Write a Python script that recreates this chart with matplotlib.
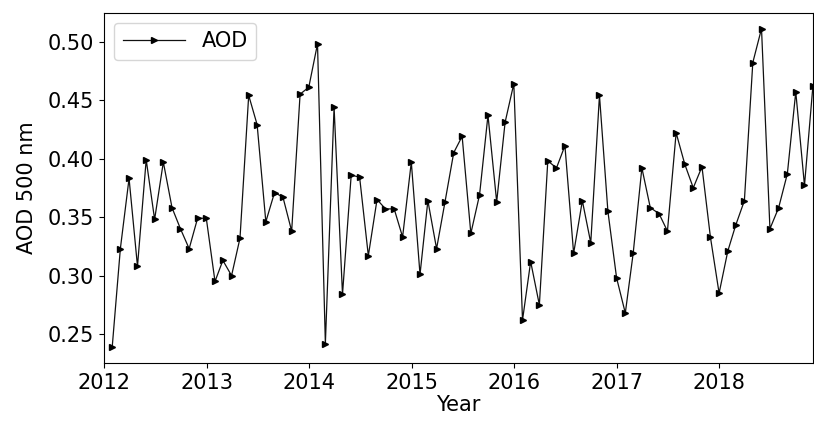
"""Monthly mean aerosol optical depth at 500 nm, 2012-2018."""
import numpy as np
import pandas as pd
import matplotlib
matplotlib.use("Agg")
import matplotlib.pyplot as plt
import matplotlib.dates as mdates

# monthly AOD values, Jan 2012 .. Nov 2018
AOD_2012 = [0.239, 0.323, 0.383, 0.308, 0.399, 0.348, 0.397, 0.358, 0.340, 0.323, 0.349, 0.349]
AOD_2013 = [0.295, 0.313, 0.300, 0.332, 0.454, 0.429, 0.346, 0.371, 0.367, 0.338, 0.455, 0.461]
AOD_2014 = [0.498, 0.242, 0.444, 0.284, 0.386, 0.384, 0.317, 0.365, 0.357, 0.357, 0.333, 0.397]
AOD_2015 = [0.301, 0.364, 0.323, 0.363, 0.405, 0.419, 0.336, 0.369, 0.437, 0.363, 0.431, 0.464]
AOD_2016 = [0.262, 0.312, 0.275, 0.398, 0.392, 0.411, 0.319, 0.364, 0.328, 0.454, 0.355, 0.298]
AOD_2017 = [0.268, 0.319, 0.392, 0.358, 0.353, 0.338, 0.422, 0.395, 0.375, 0.393, 0.333, 0.285]
AOD_2018 = [0.321, 0.343, 0.364, 0.482, 0.511, 0.340, 0.358, 0.387, 0.457, 0.377, 0.462]

aod = np.array(AOD_2012 + AOD_2013 + AOD_2014 + AOD_2015 + AOD_2016 + AOD_2017 + AOD_2018)
dates = pd.date_range("2012-01-31", periods=len(aod), freq="ME")

plt.rcParams.update({"font.family": "DejaVu Sans", "font.size": 15})

fig = plt.figure(figsize=(8.14, 4.24), dpi=100)
ax = fig.add_axes([0.1275, 0.144, 0.8715, 0.826])

ax.plot(dates, aod, color="#111111", lw=0.9, marker=">", ms=4.5,
        mfc="black", mec="black", label="AOD")

ax.set_xlim(pd.Timestamp("2012-01-01"), pd.Timestamp("2018-12-01"))
ax.xaxis.set_major_locator(mdates.YearLocator())
ax.xaxis.set_major_formatter(mdates.DateFormatter("%Y"))
ax.set_yticks([0.25, 0.30, 0.35, 0.40, 0.45, 0.50])

ax.set_xlabel("Year", labelpad=2)
ax.set_ylabel("AOD 500 nm", labelpad=8)
ax.tick_params(labelsize=15)
ax.legend(loc="upper left", fontsize=15, handlelength=3.0)

fig.savefig("out.png", dpi=100)
